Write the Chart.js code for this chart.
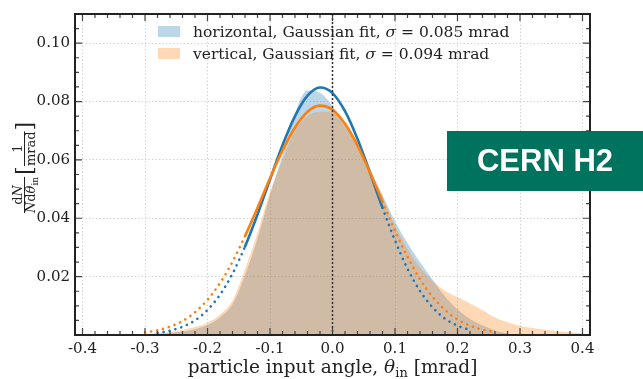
<!DOCTYPE html>
<html lang="en">
<head>
<meta charset="UTF-8">
<title>Particle input angle</title>
<script src="https://cdn.jsdelivr.net/npm/chart.js"></script>
<style>
  body { margin: 0; background: #fff; }
  canvas { display: block; }
</style>
</head>
<body>
<canvas id="angleChart" width="643" height="379"></canvas>
<script>
const histX = [-0.30, -0.28, -0.26, -0.24, -0.22, -0.20, -0.18, -0.16, -0.14, -0.12, -0.10, -0.08,
               -0.06, -0.04, -0.02, 0.00, 0.02, 0.04, 0.06, 0.08, 0.10, 0.12, 0.14, 0.16,
               0.18, 0.20, 0.22, 0.24, 0.26, 0.28, 0.30, 0.32, 0.34, 0.36, 0.38, 0.40];
const horizHist = [0.0000, 0.0003, 0.0007, 0.0012, 0.0020, 0.0034, 0.0060, 0.0105, 0.0205, 0.0330, 0.0480, 0.0615,
                   0.0760, 0.0838, 0.0830, 0.0785, 0.0720, 0.0650, 0.0565, 0.0480, 0.0390, 0.0315, 0.0250, 0.0190,
                   0.0132, 0.0088, 0.0055, 0.0033, 0.0015, 0.0005, 0.0001, 0, 0, 0, 0, 0];
const vertHist = [0.0003, 0.0006, 0.0010, 0.0017, 0.0027, 0.0042, 0.0070, 0.0118, 0.0225, 0.0350, 0.0490, 0.0600,
                  0.0700, 0.0750, 0.0765, 0.0765, 0.0715, 0.0645, 0.0560, 0.0475, 0.0375, 0.0295, 0.0232, 0.0185,
                  0.0152, 0.0130, 0.0108, 0.0085, 0.0060, 0.0044, 0.0032, 0.0024, 0.0018, 0.0013, 0.0009, 0.0006];

// gaussian fit curves
const fitX = [-0.30, -0.28, -0.26, -0.24, -0.22, -0.20, -0.18, -0.16, -0.14, -0.12, -0.10, -0.08, -0.06, -0.04, -0.02,
              0.00, 0.02, 0.04, 0.06, 0.08, 0.10, 0.12, 0.14, 0.16, 0.18, 0.20, 0.22, 0.24, 0.26];
const horizFit = [null, 0.0007, 0.0015, 0.0028, 0.0050, 0.0086, 0.0138, 0.0210, 0.0303, 0.0413, 0.0533, 0.0650, 0.0750, 0.0820, 0.0848,
                  0.0829, 0.0767, 0.0672, 0.0557, 0.0436, 0.0324, 0.0227, 0.0151, 0.0095, 0.0056, 0.0032, 0.0017, null, null];
const vertFit = [0.0009, 0.0016, 0.0029, 0.0048, 0.0078, 0.0121, 0.0178, 0.0251, 0.0339, 0.0436, 0.0537, 0.0632, 0.0711, 0.0765, 0.0786,
                 0.0772, 0.0724, 0.0650, 0.0557, 0.0457, 0.0357, 0.0268, 0.0191, 0.0131, 0.0086, 0.0053, 0.0032, 0.0018, 0.0010];
const fitRange = [-0.14, 0.08]; // solid part of the fit, dotted outside

const xTickLabels = ['-0.4', '-0.3', '-0.2', '-0.1', '0.0', '0.1', '0.2', '0.3', '0.4'];
const yTickLabels = ['0.02', '0.04', '0.06', '0.08', '0.10'];
const legendLabels = [['horizontal, Gaussian fit, ', 'σ', ' = 0.085 mrad'],
                      ['vertical, Gaussian fit, ', 'σ', ' = 0.094 mrad']];

const BLUE = '#1f77b4', ORANGE = '#ff7f0e';
const BLUE_FILL = 'rgba(31,119,180,0.3)', ORANGE_FILL = 'rgba(255,127,14,0.3)';
const SERIF = "'DejaVu Serif', serif";

function pts(xs, ys) { return xs.map((x, i) => ({x: x, y: ys[i]})); }

function dotted(ctx) {
    const a = ctx.p0.parsed.x, b = ctx.p1.parsed.x;
    return (a < fitRange[0] - 1e-9 || b > fitRange[1] + 1e-9) ? [0.1, 6] : [];
}

// draw a row of [text, font, dy] pieces
function drawPieces(ctx, pieces, x, y, align) {
    let w = 0;
    pieces.forEach(p => { ctx.font = p[1]; w += ctx.measureText(p[0]).width; });
    let cx = align === 'center' ? x - w / 2 : x;
    ctx.textAlign = 'left';
    pieces.forEach(p => {
        ctx.font = p[1];
        ctx.fillText(p[0], cx, y + (p[2] || 0));
        cx += ctx.measureText(p[0]).width;
    });
    return w;
}

const decorations = {
    id: 'decorations',
    afterDatasetsDraw(chart) {
        const {ctx, chartArea: a, scales: {x, y}} = chart;
        ctx.save();

        // zero line
        const x0 = x.getPixelForValue(0);
        ctx.strokeStyle = '#333';
        ctx.lineWidth = 1.5;
        ctx.setLineDash([2, 2]);
        ctx.beginPath(); ctx.moveTo(x0, a.top); ctx.lineTo(x0, a.bottom); ctx.stroke();
        ctx.setLineDash([]);

        // inward ticks on all sides
        ctx.strokeStyle = '#444';
        ctx.lineWidth = 1.2;
        ctx.beginPath();
        for (let i = -20; i <= 20; i++) {
            const px = x.getPixelForValue(i * 0.02);
            const len = i % 5 === 0 ? 7 : 4;
            ctx.moveTo(px, a.bottom); ctx.lineTo(px, a.bottom - len);
            ctx.moveTo(px, a.top); ctx.lineTo(px, a.top + len);
        }
        for (let i = 1; i <= 21; i++) {
            const py = y.getPixelForValue(i * 0.005);
            const len = i % 4 === 0 ? 7 : 4;
            ctx.moveTo(a.left, py); ctx.lineTo(a.left + len, py);
            ctx.moveTo(a.right, py); ctx.lineTo(a.right - len, py);
        }
        ctx.stroke();

        // frame
        ctx.strokeStyle = '#222';
        ctx.lineWidth = 2;
        ctx.strokeRect(a.left, a.top, a.right - a.left, a.bottom - a.top);

        // legend
        ctx.textBaseline = 'alphabetic';
        const fills = [BLUE_FILL, ORANGE_FILL];
        const lf = '15.5px ' + SERIF, lfi = 'italic 15.5px ' + SERIF;
        legendLabels.forEach((lab, i) => {
            const top = 26 + i * 22;
            ctx.fillStyle = '#fff';
            ctx.fillRect(158, top, 22, 11);
            ctx.fillStyle = fills[i];
            ctx.fillRect(158, top, 22, 11);
            ctx.fillStyle = '#222';
            drawPieces(ctx, [[lab[0], lf], [lab[1], lfi], [lab[2], lf]], 193, top + 11, 'left');
        });

        // x title
        const cx = (a.left + a.right) / 2;
        drawPieces(ctx, [['particle input angle, ', '18.5px ' + SERIF], ['θ', 'italic 18.5px ' + SERIF],
                         ['in', '13px ' + SERIF, 4], [' [mrad]', '18.5px ' + SERIF]], cx, 373, 'center');

        // y title (rotated fraction)
        ctx.translate(24, 169);
        ctx.rotate(-Math.PI / 2);
        ctx.textBaseline = 'alphabetic';
        const f = '13px ' + SERIF, fi = 'italic 13px ' + SERIF, fs = '9px ' + SERIF;
        let denW = 0;
        [['N', fi], ['d', f], ['θ', fi], ['in', fs]].forEach(p => { ctx.font = p[1]; denW += ctx.measureText(p[0]).width; });
        const c1 = -26;
        drawPieces(ctx, [['d', f], ['N', fi]], c1, -2, 'center');
        drawPieces(ctx, [['N', fi], ['d', f], ['θ', fi], ['in', fs, 3]], c1, 11, 'center');
        ctx.fillRect(c1 - denW / 2, 0, denW, 1);
        // bracket part [1 / mrad]
        ctx.font = '22px ' + SERIF;
        ctx.textAlign = 'left';
        ctx.fillText('[', -6, 8);
        ctx.font = f;
        const mw = ctx.measureText('mrad').width;
        const c2 = 3 + mw / 2;
        drawPieces(ctx, [['1', f]], c2, -2, 'center');
        drawPieces(ctx, [['mrad', f]], c2, 11, 'center');
        ctx.fillRect(c2 - mw / 2, 0, mw, 1);
        ctx.font = '22px ' + SERIF;
        ctx.textAlign = 'left';
        ctx.fillText(']', 4 + mw, 8);
        ctx.restore();
    },
    afterDraw(chart) {
        const ctx = chart.ctx;
        ctx.save();
        ctx.fillStyle = '#00735f';
        ctx.fillRect(447, 131, 196, 60);
        ctx.fillStyle = '#fff';
        ctx.font = "bold 31px 'Liberation Sans', Arial, sans-serif";
        ctx.textAlign = 'center';
        ctx.textBaseline = 'middle';
        ctx.fillText('CERN H2', 545, 162);
        ctx.restore();
    }
};

new Chart(document.getElementById('angleChart'), {
    type: 'line',
    data: {
        datasets: [
            {label: 'horizontal', data: pts(histX, horizHist), fill: 'origin', backgroundColor: BLUE_FILL,
             borderWidth: 0, pointRadius: 0, cubicInterpolationMode: 'monotone', order: 4},
            {label: 'vertical', data: pts(histX, vertHist), fill: 'origin', backgroundColor: ORANGE_FILL,
             borderWidth: 0, pointRadius: 0, cubicInterpolationMode: 'monotone', order: 3},
            {label: 'horizontal fit', data: pts(fitX, horizFit), borderColor: BLUE, borderWidth: 2.6,
             borderCapStyle: 'round', pointRadius: 0, cubicInterpolationMode: 'monotone', fill: false,
             segment: {borderDash: dotted}, order: 2},
            {label: 'vertical fit', data: pts(fitX, vertFit), borderColor: ORANGE, borderWidth: 2.6,
             borderCapStyle: 'round', pointRadius: 0, cubicInterpolationMode: 'monotone', fill: false,
             segment: {borderDash: dotted}, order: 1}
        ]
    },
    options: {
        responsive: false,
        animation: false,
        layout: {padding: {top: 11, right: 53, left: 0, bottom: 0}},
        plugins: {legend: {display: false}, tooltip: {enabled: false}},
        scales: {
            x: {
                type: 'linear', min: -0.412, max: 0.412,
                afterBuildTicks: s => { s.ticks = xTickLabels.map(t => ({value: parseFloat(t)})); },
                afterFit: s => { s.height = 44; },
                ticks: {
                    callback: (v, i) => xTickLabels[i], padding: 5, maxRotation: 0,
                    color: '#222', font: {family: SERIF, size: 15}
                },
                grid: {color: '#d4d4d4', lineWidth: 1, drawTicks: false},
                border: {display: false, dash: [1.5, 2]}
            },
            y: {
                min: 0, max: 0.11,
                afterBuildTicks: s => { s.ticks = yTickLabels.map(t => ({value: parseFloat(t)})); },
                afterFit: s => { s.width = 75; },
                ticks: {
                    callback: (v, i) => yTickLabels[i], padding: 5,
                    color: '#222', font: {family: SERIF, size: 15}
                },
                grid: {color: '#d4d4d4', lineWidth: 1, drawTicks: false},
                border: {display: false, dash: [1.5, 2]}
            }
        }
    },
    plugins: [decorations]
});
</script>
</body>
</html>
